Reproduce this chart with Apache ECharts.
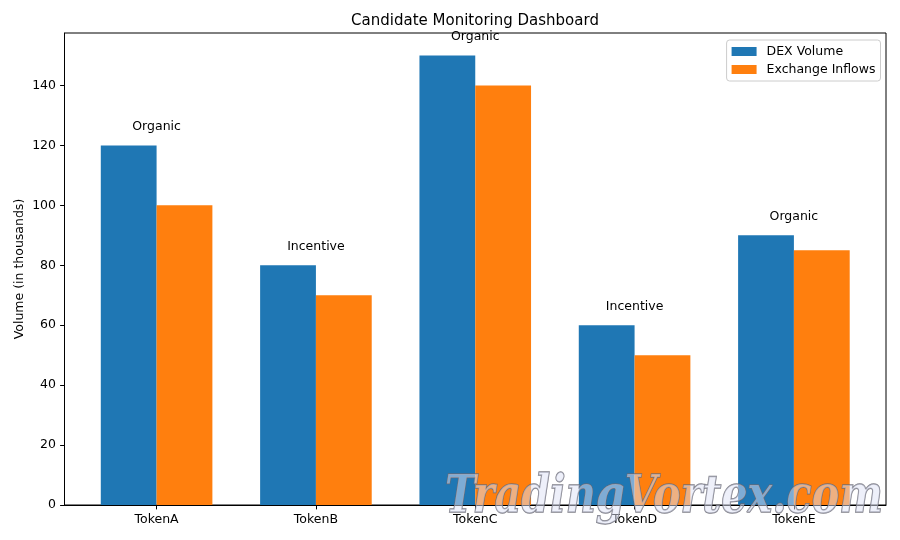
<!DOCTYPE html>
<html>
<head>
<meta charset="utf-8">
<script src="https://cdn.jsdelivr.net/npm/echarts@6/dist/echarts.min.js"></script>
<style>
html,body{margin:0;padding:0;background:#fff;}
#chart{width:900px;height:540px;}
</style>
</head>
<body>
<div id="chart"></div>
<script>
const categories = ["TokenA", "TokenB", "TokenC", "TokenD", "TokenE"];
const dexVolume = [120, 80, 150, 60, 90];
const exchangeInflows = [100, 70, 140, 50, 85];
const annotations = ["Organic", "Incentive", "Organic", "Incentive", "Organic"];
const yTicks = [0, 20, 40, 60, 80, 100, 120, 140];
const annotationOffset = 5;

const FONT = "DejaVu Sans";
const chart = echarts.init(document.getElementById('chart'), null, {renderer: 'canvas'});

// watermark sizing
const wmFont = 'italic bold 53px "DejaVu Serif"';
const mctx = document.createElement('canvas').getContext('2d');
mctx.font = wmFont;
const wmW = mctx.measureText('TradingVortex.com').width;
const wmScale = 438 / wmW;

const catIdx = categories.map((c, i) => i);
const option = {
  animation: false,
  backgroundColor: '#ffffff',
  textStyle: {fontFamily: FONT},
  grid: {left: 64.5, right: 14, top: 33, bottom: 35, show: true, borderColor: '#000', borderWidth: 1, backgroundColor: 'transparent', containLabel: false},
  graphic: [
    {type: 'text', x: 475, y: 21, style: {text: 'Candidate Monitoring Dashboard', fontFamily: FONT, fontSize: 15, fill: '#000', align: 'center', verticalAlign: 'middle'}, z: 10},
    {type: 'text', x: 445, y: 525, scaleX: wmScale, style: {text: 'TradingVortex.com', fontFamily: 'DejaVu Serif', fontStyle: 'italic', fontWeight: 'bold', fontSize: 53, fill: 'rgba(222,226,245,0.5)', stroke: 'rgba(105,105,115,0.85)', lineWidth: 1.5, align: 'left', verticalAlign: 'bottom'}, z: 100}
  ],
  legend: {
    orient: 'vertical', right: 19.5, top: 40,
    data: ['DEX Volume', 'Exchange Inflows'],
    itemWidth: 25, itemHeight: 9, itemGap: 5,
    icon: 'rect',
    padding: [5, 5, 5, 5],
    backgroundColor: '#fff', borderColor: '#cccccc', borderWidth: 1, borderRadius: 3,
    textStyle: {fontFamily: FONT, fontSize: 12.5, color: '#000', padding: [0, 0, 0, 5]}
  },
  xAxis: {
    type: 'value', min: -0.578, max: 4.578,
    axisLine: {show: true, onZero: false, lineStyle: {color: '#000', width: 1}},
    axisTick: {show: true, length: 4.4, lineStyle: {color: '#000'}, customValues: catIdx},
    axisLabel: {show: true, customValues: catIdx, margin: 8.5, color: '#000', fontFamily: FONT, fontSize: 12.5, formatter: v => categories[Math.round(v)] || ''},
    splitLine: {show: false}
  },
  yAxis: {
    type: 'value', min: 0, max: 157.5,
    name: 'Volume (in thousands)', nameLocation: 'middle', nameGap: 38, nameRotate: 90, nameMoveOverlap: false,
    nameTextStyle: {fontFamily: FONT, fontSize: 12.5, color: '#000'},
    axisLine: {show: true, onZero: false, lineStyle: {color: '#000', width: 1}},
    axisTick: {show: true, length: 4.4, lineStyle: {color: '#000'}, customValues: yTicks},
    axisLabel: {show: true, customValues: yTicks, margin: 8.5, color: '#000', fontFamily: FONT, fontSize: 12.5},
    splitLine: {show: false}
  },
  series: [
    {name: 'DEX Volume', type: 'bar', data: dexVolume.map((v, i) => [i, v]), barWidth: 55.8, barGap: '0%', itemStyle: {color: '#1f77b4'}},
    {name: 'Exchange Inflows', type: 'bar', data: exchangeInflows.map((v, i) => [i, v]), barWidth: 55.8, barGap: '0%', itemStyle: {color: '#ff7f0e'}},
    {name: 'annot', type: 'scatter', symbolSize: 0, silent: true, itemStyle: {opacity: 1},
     data: dexVolume.map((v, i) => [i, Math.max(v, exchangeInflows[i]) + annotationOffset]),
     label: {show: true, position: 'top', distance: -3, color: '#000', opacity: 1, fontFamily: FONT, fontSize: 12.5, formatter: p => annotations[p.dataIndex]}}
  ]
};
chart.setOption(option);
</script>
</body>
</html>
